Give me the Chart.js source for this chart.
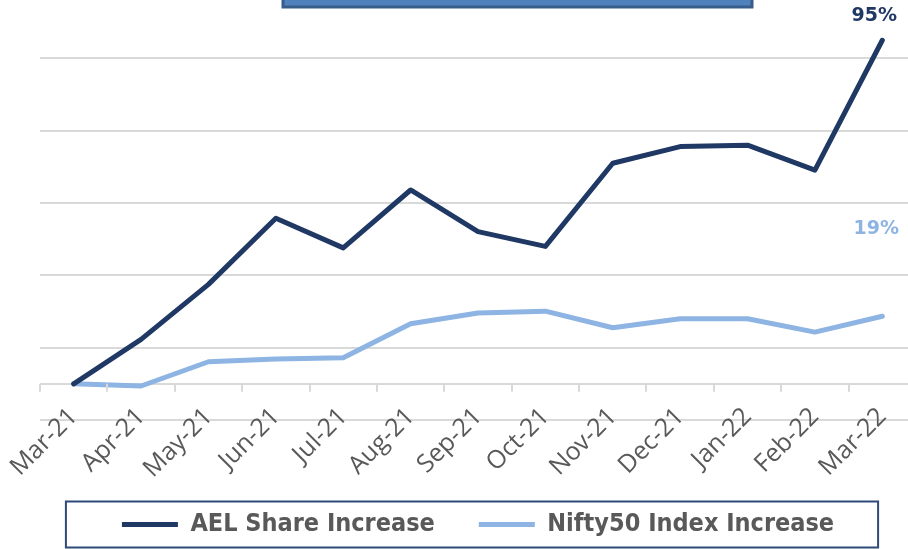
<!DOCTYPE html>
<html>
<head>
<meta charset="utf-8">
<script src="https://cdn.jsdelivr.net/npm/chart.js@4/dist/chart.umd.min.js"></script>
<style>
  html, body { margin: 0; padding: 0; background: #fff; overflow: hidden; }
  #wrap { position: absolute; left: 0; top: -30px; width: 930px; height: 579px; }
</style>
</head>
<body>
<div id="wrap"><canvas id="chart"></canvas></div>
<script>
// values, % increase since Mar-21
const months = ['Mar-21', 'Apr-21', 'May-21', 'Jun-21', 'Jul-21', 'Aug-21', 'Sep-21',
  'Oct-21', 'Nov-21', 'Dec-21', 'Jan-22', 'Feb-22', 'Mar-22'];
const aelIncrease = [0, 12.3, 27.5, 45.8, 37.6, 53.6, 42.1, 38.0, 61.0, 65.6, 66.0, 59.1, 95.0];
const niftyIncrease = [0, -0.6, 6.1, 6.9, 7.2, 16.6, 19.6, 20.1, 15.5, 18.0, 18.0, 14.3, 18.7];
const endLabels = ['95%', '19%'];
const gridValues = [-10, 0, 10, 30, 50, 70, 90, 110];

const darkBlue = '#1F3864';
const lightBlue = '#8DB4E2';
const gridGray = '#D9D9D9';

const decor = {
  id: 'decor',
  afterDraw(chart) {
    const ctx = chart.ctx;
    const x = chart.scales.x, y = chart.scales.y;
    ctx.save();

    // title box cut off at the top
    ctx.fillStyle = '#4F81BD';
    ctx.strokeStyle = '#385D8A';
    ctx.lineWidth = 3;
    ctx.fillRect(283, 0, 469, 37);
    ctx.strokeRect(283, 0, 469, 37);

    // tick marks under the zero line
    const y0 = y.getPixelForValue(0);
    ctx.strokeStyle = gridGray;
    ctx.lineWidth = 2;
    for (let i = 0; i <= months.length; i++) {
      const px = Math.round(x.getPixelForValue(i - 0.5));
      ctx.beginPath();
      ctx.moveTo(px, y0);
      ctx.lineTo(px, y0 + 8);
      ctx.stroke();
    }

    // end labels
    ctx.font = 'bold 19px "DejaVu Sans"';
    ctx.textAlign = 'center';
    ctx.textBaseline = 'middle';
    const offsets = [[-8, -24], [-6, -87]];
    chart.data.datasets.forEach((ds, i) => {
      const meta = chart.getDatasetMeta(i);
      const pt = meta.data[meta.data.length - 1];
      ctx.fillStyle = ds.borderColor;
      ctx.fillText(endLabels[i], pt.x + offsets[i][0], pt.y + offsets[i][1]);
    });

    // frame round the legend
    const boxes = chart.legend.legendHitBoxes;
    if (boxes.length) {
      const first = boxes[0], last = boxes[boxes.length - 1];
      const cy = first.top + first.height / 2;
      ctx.strokeStyle = '#2E4A78';
      ctx.lineWidth = 2;
      ctx.strokeRect(first.left - 56, cy - 23, last.left + last.width - first.left + 100, 46);
    }
    ctx.restore();
  }
};

new Chart(document.getElementById('chart').getContext('2d'), {
  type: 'line',
  data: {
    labels: months,
    datasets: [{
      label: 'AEL Share Increase',
      data: aelIncrease,
      borderColor: darkBlue,
      backgroundColor: darkBlue,
      borderWidth: 5,
      borderCapStyle: 'round',
      borderJoinStyle: 'round',
      pointRadius: 0,
      pointStyle: 'line'
    }, {
      label: 'Nifty50 Index Increase',
      data: niftyIncrease,
      borderColor: lightBlue,
      backgroundColor: lightBlue,
      borderWidth: 5,
      borderCapStyle: 'round',
      borderJoinStyle: 'round',
      pointRadius: 0,
      pointStyle: 'line'
    }]
  },
  options: {
    responsive: true,
    maintainAspectRatio: false,
    animation: false,
    layout: { padding: { left: 40, right: 14, top: 16, bottom: 2 } },
    plugins: {
      tooltip: { enabled: false },
      legend: {
        position: 'bottom',
        labels: {
          usePointStyle: true,
          pointStyleWidth: 56,
          padding: 44,
          color: '#595959',
          font: { family: '"DejaVu Sans Condensed", "DejaVu Sans"', size: 25, weight: 'bold' }
        }
      }
    },
    scales: {
      x: {
        position: { y: -10 },
        offset: true,
        grid: { display: false, drawTicks: false },
        border: { display: false },
        ticks: {
          minRotation: 45,
          maxRotation: 45,
          autoSkip: false,
          padding: -13,
          color: '#595959',
          font: { family: '"Open Sans"', size: 25, lineHeight: 0.64 }
        }
      },
      // empty axis that only keeps room between the plot and the legend
      gap: {
        type: 'category',
        position: 'bottom',
        labels: [''],
        grid: { display: false, drawTicks: false },
        border: { display: false },
        ticks: { display: false },
        afterFit(scale) { scale.height = 48; }
      },
      y: {
        min: -10,
        max: 110,
        afterBuildTicks(scale) { scale.ticks = gridValues.map(v => ({ value: v })); },
        grid: { color: gridGray, lineWidth: 2, drawTicks: false },
        border: { display: false },
        ticks: { display: false }
      }
    }
  },
  plugins: [decor]
});
</script>
</body>
</html>
